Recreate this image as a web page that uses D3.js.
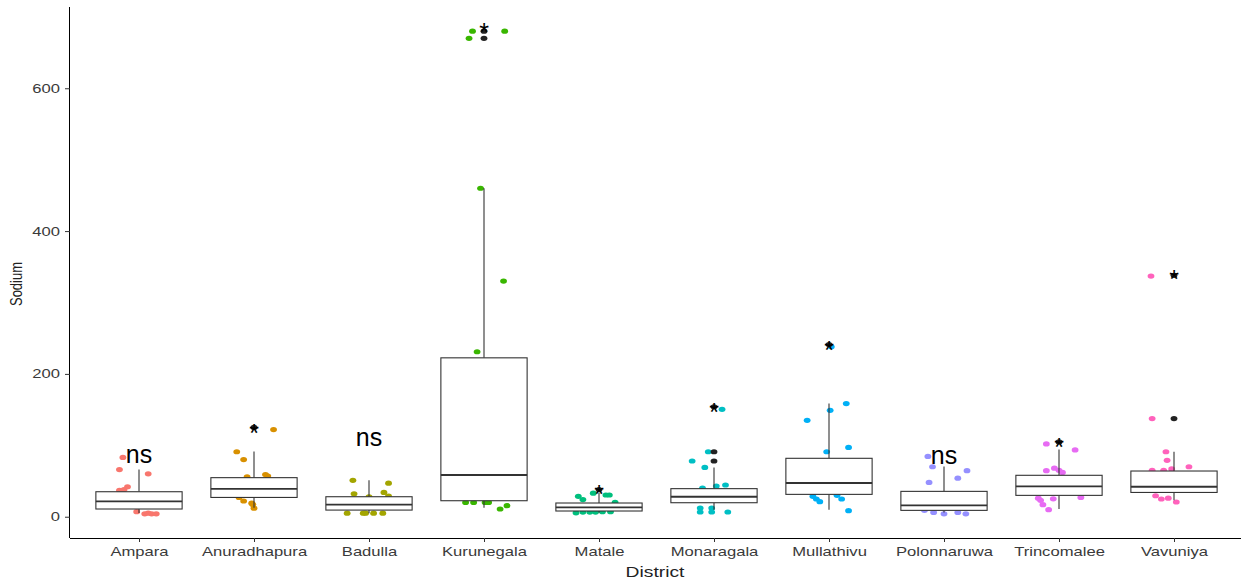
<!DOCTYPE html>
<html>
<head>
<meta charset="utf-8">
<script src="https://cdn.jsdelivr.net/npm/d3@7"></script>
<style>
  html, body { margin: 0; padding: 0; background: #fff; }
  svg { display: block; font-family: "Liberation Sans", Arial, sans-serif; }
</style>
</head>
<body>
<svg id="chart" width="1241" height="581"></svg>
<script>
// districts on the x axis
const districts = ['Ampara', 'Anuradhapura', 'Badulla', 'Kurunegala', 'Matale',
  'Monaragala', 'Mullathivu', 'Polonnaruwa', 'Trincomalee', 'Vavuniya'];
const palette = ['#F8766D', '#D89000', '#A3A500', '#39B600', '#00BF7D',
  '#00BFC4', '#00B0F6', '#9590FF', '#E76BF3', '#FF62BC'];

// box summaries
const q1 = [10.8, 27, 9.3, 22.4, 8, 19.6, 31.3, 8.9, 29.9, 34];
const median = [21.5, 39, 16.8, 58.4, 13, 28, 47.2, 15.9, 42.5, 42];
const q3 = [35, 54.7, 28, 222.5, 19.2, 39.3, 81.8, 35.5, 58, 64];
const whiskerLow = [5.2, 12.6, 5, 12.6, 5.6, 9.8, 9.8, 6, 10.8, 23];
const whiskerHigh = [66, 91.5, 51, 460, 33.6, 69, 158.4, 70.5, 94, 91];
const outliers = [[], [125], [], [680, 670], [38], [154, 91, 78], [241], [], [104.7], [338, 137.4]];

// significance labels and the value they sit at
const signif = ['ns', '*', 'ns', '*', '*', '*', '*', 'ns', '*', '*'];
const signifY = [84, 125, 108, 686, 39, 154, 241, 83, 105, 341];

// jittered observations: [value, horizontal offset in category units]
const ampara = [[83, -0.14], [66, -0.17], [60, 0.08], [42, -0.1], [38, -0.13], [37, -0.17],
  [7, -0.02], [4, 0.05], [5, 0.08], [4, 0.11], [4, 0.15]];
const anuradhapura = [[91, -0.15], [80, -0.09], [122, 0.17], [59, 0.1], [57, 0.12], [56, -0.06],
  [22, -0.09], [27, -0.13], [19, -0.02], [17, -0.01], [12, 0]];
const badulla = [[51, -0.14], [47, 0.17], [32, -0.13], [34, 0.13], [29, 0.17], [28, 0],
  [5, -0.19], [5, -0.05], [5, -0.03], [5, 0.04], [5, 0.12]];
const kurunegala = [[680, -0.1], [680, 0.18], [670, -0.13], [460, -0.03], [330, 0.17], [231, -0.06],
  [20, -0.16], [20, -0.09], [20, 0.01], [20, 0.04], [10.8, 0.14], [15.4, 0.2]];
const matale = [[28.5, -0.18], [24, -0.14], [33, -0.05], [30.4, 0.06], [30.4, 0.09], [20, 0.14],
  [5.5, -0.2], [6.5, -0.14], [6.5, -0.08], [6.5, -0.03], [7, 0.03], [7, 0.1]];
const monaragala = [[150.4, 0.07], [91, -0.05], [78, -0.19], [69, -0.08], [43, 0.02], [44.4, 0.1],
  [40, -0.1], [12.2, -0.12], [6.6, -0.12], [12.2, -0.02], [6.6, -0.02], [6.6, 0.12]];
const mullathivu = [[238, 0.02], [158.4, 0.15], [149, 0.01], [135, -0.19], [97, 0.17], [91, -0.02],
  [28.5, -0.14], [24.8, -0.11], [21, -0.08], [24.8, 0.11], [30, 0.07], [8.4, 0.17]];
const polonnaruwa = [[84.5, -0.14], [70, -0.1], [48, -0.13], [64.5, 0.2], [54, 0.12],
  [9, -0.17], [6, -0.09], [4, 0], [6, 0.12], [4, 0.19]];
const trincomalee = [[102, -0.11], [93.5, 0.14], [64.5, -0.11], [68, -0.04], [65, 0], [62, 0.03],
  [26, -0.18], [23, -0.16], [16.8, -0.14], [9.8, -0.09], [25, -0.05], [27, 0.19]];
const vavuniya = [[337, -0.2], [137.4, -0.19], [91, -0.07], [79, -0.06], [70, 0.13], [67, -0.02],
  [65, -0.09], [65, -0.19], [29.4, -0.16], [24.8, -0.11], [26, -0.05], [20.6, 0.02]];
const pointSets = [ampara, anuradhapura, badulla, kurunegala, matale,
  monaragala, mullathivu, polonnaruwa, trincomalee, vavuniya];

const yTicks = [0, 200, 400, 600];

const W = 1241, H = 581;
const margin = {top: 7, right: 0, bottom: 43, left: 70};
const plotBottom = H - margin.bottom;
const stretch = 1.33; // the picture is widened horizontally

const svg = d3.select('#chart');

const x = d3.scalePoint().domain(districts).range([margin.left, 1243]).padding(0.6);
const step = x.step();

// ggplot style 5% expansion around the data range
const allVals = pointSets.flat().map(p => p[0]);
const lo = d3.min(allVals), hi = d3.max(allVals);
const pad = (hi - lo) * 0.05;
const y = d3.scaleLinear().domain([lo - pad, hi + pad]).range([plotBottom, margin.top]);

// jitter points first, the white boxes cover the ones inside
pointSets.forEach((pts, i) => {
  svg.append('g')
  .selectAll('ellipse')
  .data(pts)
  .enter()
  .append('ellipse')
  .attr('cx', d => x(districts[i]) + d[1] * step)
  .attr('cy', d => y(d[0]))
  .attr('rx', 3.4)
  .attr('ry', 2.6)
  .attr('fill', palette[i]);
});

const boxW = step * 0.75;
const boxes = svg.append('g');
districts.forEach((name, i) => {
  const cx = x(name);
  const g = boxes.append('g');
  g.append('line')
  .attr('x1', cx).attr('x2', cx)
  .attr('y1', y(q3[i])).attr('y2', y(whiskerHigh[i]))
  .attr('stroke', '#333').attr('stroke-width', 1.1);
  g.append('line')
  .attr('x1', cx).attr('x2', cx)
  .attr('y1', y(q1[i])).attr('y2', y(whiskerLow[i]))
  .attr('stroke', '#333').attr('stroke-width', 1.1);
  g.append('rect')
  .attr('x', cx - boxW / 2)
  .attr('y', y(q3[i]))
  .attr('width', boxW)
  .attr('height', y(q1[i]) - y(q3[i]))
  .attr('fill', '#fff')
  .attr('stroke', '#333')
  .attr('stroke-width', 1.1);
  g.append('line')
  .attr('x1', cx - boxW / 2).attr('x2', cx + boxW / 2)
  .attr('y1', y(median[i])).attr('y2', y(median[i]))
  .attr('stroke', '#333').attr('stroke-width', 1.8);
  g.selectAll('ellipse')
  .data(outliers[i])
  .enter()
  .append('ellipse')
  .attr('cx', cx)
  .attr('cy', d => y(d))
  .attr('rx', 3.4)
  .attr('ry', 2.6)
  .attr('fill', '#222');
});

// significance labels
districts.forEach((name, i) => {
  const isStar = signif[i] === '*';
  svg.append('text')
  .attr('x', x(name))
  .attr('y', y(signifY[i]) + (isStar ? 14.5 : 6.5))
  .attr('text-anchor', 'middle')
  .attr('font-size', 25)
  .attr('fill', '#000')
  .text(signif[i]);
});

// axes
const xAxis = svg.append('g')
.attr('transform', `translate(0,${plotBottom})`)
.call(d3.axisBottom(x).tickSize(4).tickPadding(5).tickSizeOuter(0));
xAxis.select('.domain').attr('d', `M${margin.left},0.5H${W}`).attr('stroke', '#000');
xAxis.selectAll('.tick line').attr('stroke', '#333');
xAxis.selectAll('.tick text')
.attr('font-size', 12.5)
.attr('fill', '#3a3a3a')
.attr('transform', `scale(${stretch},1)`);

const yAxis = svg.append('g')
.attr('transform', `translate(${margin.left},0)`)
.call(d3.axisLeft(y).tickValues(yTicks).tickSize(5).tickPadding(5).tickSizeOuter(0));
yAxis.select('.domain').attr('d', `M-0.5,${margin.top}V${plotBottom}`).attr('stroke', '#000');
yAxis.selectAll('.tick line').attr('stroke', '#333');
yAxis.selectAll('.tick text')
.attr('font-size', 12.5)
.attr('fill', '#3a3a3a')
.attr('x', -10 / stretch)
.attr('transform', `scale(${stretch},1)`);

// axis titles
svg.append('text')
.attr('transform', `translate(655,577) scale(${stretch},1)`)
.attr('text-anchor', 'middle')
.attr('font-size', 14.5)
.attr('fill', '#222')
.text('District');

svg.append('text')
.attr('transform', `translate(22,284) rotate(-90) scale(1,${stretch})`)
.attr('text-anchor', 'middle')
.attr('font-size', 13)
.attr('fill', '#222')
.text('Sodium');
</script>
</body>
</html>
